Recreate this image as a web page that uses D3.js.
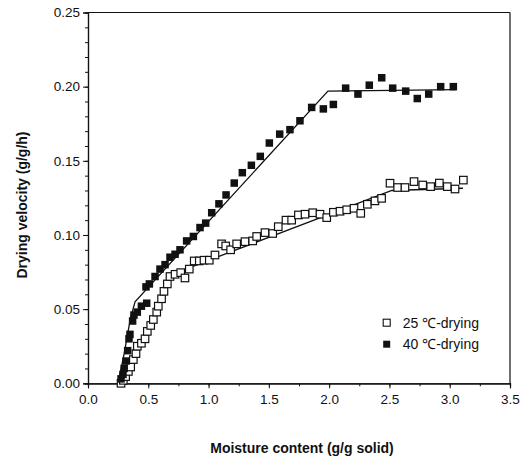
<!DOCTYPE html>
<html>
<head>
<meta charset="utf-8">
<script src="https://cdn.jsdelivr.net/npm/d3@7"></script>
<style>
  body { margin:0; background:#fff; }
  text { font-family: Arial, "Liberation Sans", Helvetica, sans-serif; }
</style>
</head>
<body>
<div id="chart"></div>
<script>
// data
var x40 = [0.274,0.29,0.30,0.315,0.329,0.34,0.348,0.370,0.381,0.409,0.443,0.487,0.481,0.509,0.556,0.597,0.639,0.680,0.722,0.763,0.818,0.874,0.929,0.976,1.026,1.086,1.145,1.213,1.280,1.355,1.429,1.504,1.590,1.675,1.758,1.855,1.952,2.035,2.137,2.239,2.333,2.436,2.527,2.635,2.731,2.826,2.925,3.030];
var y40 = [0.003,0.006,0.010,0.015,0.022,0.030,0.033,0.042,0.046,0.048,0.052,0.054,0.065,0.067,0.072,0.077,0.080,0.085,0.087,0.090,0.096,0.099,0.105,0.108,0.115,0.121,0.127,0.135,0.142,0.147,0.153,0.162,0.168,0.171,0.177,0.186,0.185,0.188,0.199,0.195,0.201,0.206,0.199,0.197,0.192,0.195,0.200,0.200];

var x25 = [0.274,0.293,0.312,0.335,0.354,0.376,0.398,0.409,0.443,0.473,0.492,0.520,0.542,0.570,0.583,0.610,0.630,0.658,0.680,0.722,0.769,0.804,0.840,0.881,0.923,0.962,1.006,1.053,1.108,1.142,1.183,1.233,1.302,1.366,1.399,1.468,1.532,1.578,1.642,1.689,1.745,1.800,1.864,1.924,1.980,2.035,2.090,2.146,2.206,2.262,2.317,2.380,2.435,2.505,2.568,2.629,2.704,2.776,2.842,2.914,2.980,3.044,3.113];
var y25 = [0.000,0.002,0.0045,0.008,0.011,0.016,0.020,0.025,0.027,0.030,0.035,0.039,0.043,0.048,0.052,0.057,0.062,0.067,0.072,0.0735,0.0746,0.071,0.077,0.0825,0.0825,0.083,0.083,0.0865,0.094,0.0926,0.090,0.094,0.0955,0.096,0.099,0.1016,0.101,0.1056,0.110,0.110,0.1135,0.114,0.115,0.114,0.1117,0.1153,0.116,0.117,0.118,0.1146,0.1207,0.123,0.1247,0.1349,0.132,0.132,0.136,0.1337,0.1326,0.135,0.1326,0.131,0.137];

// fitted lines
var fit40X = [0.25,0.30,0.35,0.39,1.99,3.05];
var fit40Y = [0,0.02,0.043,0.055,0.197,0.198];
var fit25X = [0.27,0.45,0.60,0.68,2.52,3.11];
var fit25Y = [0,0.026,0.052,0.073,0.130,0.1315];

var xTicks = [0,0.5,1.0,1.5,2.0,2.5,3.0,3.5];
var yTicks = [0,0.05,0.10,0.15,0.20,0.25];
var legendLabels = ["25 \u2103-drying","40 \u2103-drying"];

var margin = { left:88, right:12, top:12.5, bottom:75.7 };
var w = 522 - margin.left - margin.right;
var h = 459 - margin.top - margin.bottom;
var ink = "#111";

var svg = d3.select("#chart")
    .append("svg")
    .attr("width", 522)
    .attr("height", 459);

var g = svg.append("g")
    .attr("transform", "translate(" + margin.left + "," + margin.top + ")");

var xScale = d3.scaleLinear().domain([0,3.5]).range([0,w]);
var yScale = d3.scaleLinear().domain([0,0.25]).range([h,0]);

// frame (top + right)
g.append("line").attr("x1",0).attr("x2",w).attr("y1",0).attr("y2",0)
    .attr("stroke",ink).attr("stroke-width",1.2);
g.append("line").attr("x1",w).attr("x2",w).attr("y1",0).attr("y2",h)
    .attr("stroke",ink).attr("stroke-width",1.2);

// --------- minor ticks
var xMinor = d3.axisBottom(xScale).tickValues(d3.range(0,3.51,0.25)).tickSize(3).tickFormat("");
var yMinor = d3.axisLeft(yScale).tickValues(d3.range(0,0.251,0.01)).tickSize(3).tickFormat("");
g.append("g").attr("transform","translate(0," + h + ")").call(xMinor);
g.append("g").call(yMinor);

// --------- major axes
var xAxis = d3.axisBottom(xScale).tickValues(xTicks).tickSize(5).tickPadding(6)
    .tickFormat(d3.format(".1f"));
var yAxis = d3.axisLeft(yScale).tickValues(yTicks).tickSize(5).tickPadding(3)
    .tickFormat(d3.format(".2f"));

g.append("g").attr("class","x axis").attr("transform","translate(0," + h + ")").call(xAxis);
g.append("g").attr("class","y axis").call(yAxis);

g.selectAll(".domain").attr("stroke",ink).attr("stroke-width",1.2);
g.selectAll(".tick line").attr("stroke",ink).attr("stroke-width",1);
g.selectAll(".tick text").attr("font-size",13.5).attr("fill",ink)
    .attr("font-family","Arial, 'Liberation Sans', sans-serif");

// --------- fit lines
var line = d3.line()
    .x(function(d) { return xScale(d[0]); })
    .y(function(d) { return yScale(d[1]); });

g.append("path")
    .datum(d3.zip(fit40X, fit40Y))
    .attr("d", line)
    .attr("fill","none").attr("stroke",ink).attr("stroke-width",1.3);

g.append("path")
    .datum(d3.zip(fit25X, fit25Y))
    .attr("d", line)
    .attr("fill","none").attr("stroke",ink).attr("stroke-width",1.3);

// --------- markers
var s = 7.5;
g.selectAll(".p25")
    .data(d3.zip(x25, y25))
    .enter()
    .append("rect")
    .attr("class","p25")
    .attr("x", function(d) { return xScale(d[0]) - s/2; })
    .attr("y", function(d) { return yScale(d[1]) - s/2; })
    .attr("width", s).attr("height", s)
    .attr("fill","#fff").attr("stroke",ink).attr("stroke-width",1.2);

g.selectAll(".p40")
    .data(d3.zip(x40, y40))
    .enter()
    .append("rect")
    .attr("class","p40")
    .attr("x", function(d) { return xScale(d[0]) - s/2; })
    .attr("y", function(d) { return yScale(d[1]) - s/2; })
    .attr("width", s).attr("height", s)
    .attr("fill",ink);

// --------- legend
var legend = g.append("g").attr("transform","translate(" + (386.7 - margin.left) + "," + (322.7 - margin.top) + ")");
legend.append("rect").attr("x",-3.5).attr("y",-3.5).attr("width",7).attr("height",7)
    .attr("fill","#fff").attr("stroke",ink).attr("stroke-width",1.1);
legend.append("rect").attr("x",-3.5).attr("y",18).attr("width",7).attr("height",7)
    .attr("fill",ink);
legend.selectAll(".lt")
    .data(legendLabels)
    .enter()
    .append("text")
    .attr("class","lt")
    .attr("x",16)
    .attr("y",function(d,i) { return 5 + i*21.6; })
    .attr("font-size",14)
    .attr("fill",ink)
    .text(function(d) { return d; });

// --------- X Axis Label
svg.append("text")
    .attr("x", 302)
    .attr("y", 453)
    .attr("text-anchor","middle")
    .attr("font-size",14)
    .attr("font-weight","bold")
    .attr("fill",ink)
    .text("Moisture content (g/g solid)");

//---------- Y Axis Label
svg.append("text")
    .attr("x", -205)
    .attr("y", 27)
    .attr("text-anchor","middle")
    .attr("font-size",14)
    .attr("font-weight","bold")
    .attr("fill",ink)
    .attr("transform","rotate(-90)")
    .text("Drying velocity (g/g/h)");
</script>
</body>
</html>
